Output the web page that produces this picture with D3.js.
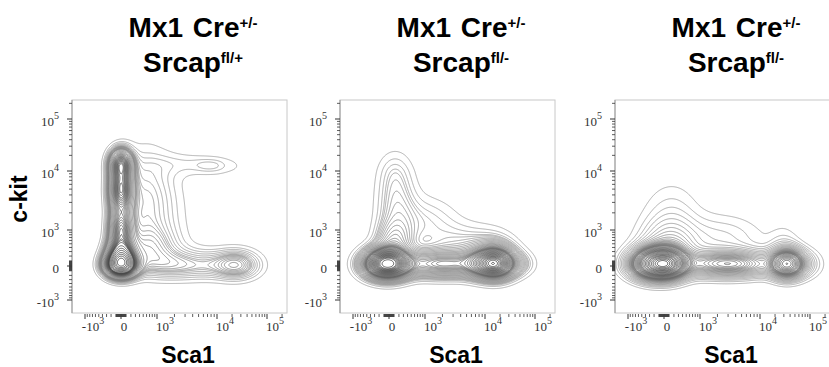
<!DOCTYPE html>
<html>
<head>
<meta charset="utf-8">
<script src="https://cdn.jsdelivr.net/npm/d3@7"></script>
<style>
body { margin: 0; background: #fff; }
text { font-family: "Liberation Sans", Arial, sans-serif; }
.tick-label { font-family: "Liberation Serif", "Times New Roman", serif; font-size: 13px; fill: #333; }
</style>
</head>
<body>
<svg id="chart" width="829" height="367"></svg>
<script>
// panel titles
var creGenotype = ["+/-", "+/-", "+/-"];
var srcapGenotype = ["fl/+", "fl/-", "fl/-"];

// axis ticks (same on Sca1 and c-kit)
var majorTicks = [-1000, 0, 1000, 10000, 100000];
var majorLabels = [["-10", "3"], ["0", ""], ["10", "3"], ["10", "4"], ["10", "5"]];

// cell populations: [Sca1, c-kit, spread Sca1, spread c-kit, weight]
// spreads are in arcsinh display units
var wtPops = [
    [0, 20, 0.4, 0.32, 1.0],
    [0, 250, 0.35, 0.4, 0.6],
    [0, 1000, 0.3, 0.5, 0.45],
    [0, 4800, 0.3, 0.6, 0.55],
    [0, 14000, 0.3, 0.4, 0.45],
    [600, 4000, 0.75, 1.2, 0.08],
    [700, 400, 0.75, 0.6, 0.1],
    [900, 1500, 0.8, 0.8, 0.02],
    [4000, 13500, 1.1, 0.32, 0.03],
    [7700, 12500, 0.4, 0.2, 0.025],
    [20000, 12000, 0.6, 0.3, 0.01],
    [24000, 20, 0.7, 0.4, 0.14],
    [2500, 20, 1.2, 0.42, 0.1]
];
var ko1Pops = [
    [-40, 40, 0.6, 0.4, 1.0],
    [15000, 40, 0.6, 0.4, 0.8],
    [2000, 40, 1.0, 0.38, 0.35],
    [50000, 40, 0.5, 0.35, 0.06],
    [100, 600, 0.5, 0.5, 0.14],
    [150, 2500, 0.55, 1.1, 0.1],
    [100, 10000, 0.45, 0.6, 0.03],
    [1000, 1500, 0.8, 0.6, 0.06],
    [3500, 600, 0.9, 0.5, 0.06],
    [15000, 300, 0.7, 0.55, 0.1]
];
var ko2Pops = [
    [-140, 40, 0.65, 0.4, 1.0],
    [100, 40, 0.45, 0.35, 0.4],
    [35000, 40, 0.5, 0.38, 0.6],
    [3000, 40, 1.1, 0.36, 0.35],
    [100, 400, 0.8, 0.7, 0.15],
    [150, 1800, 0.8, 0.9, 0.04],
    [2500, 700, 1.0, 0.6, 0.05],
    [30000, 400, 0.5, 0.6, 0.04],
    [90000, 40, 0.5, 0.4, 0.05]
];
var panelPops = [wtPops, ko1Pops, ko2Pops];

var svg = d3.select("#chart");
var panelLeft = [72, 340, 615];
var plotTop = 100, W = 215, H = 213;

// biexponential-like display transform
function T(v) { return Math.asinh(v / 470); }
var xT = d3.scaleLinear().domain(majorTicks.map(T)).range([13, 49, 85, 145, 195]);
var yT = d3.scaleLinear().domain(majorTicks.map(T)).range([200, 166, 130, 71, 19]);
function x(v) { return xT(T(v)); }
function y(v) { return yT(T(v)); }

var minorTicks = [];
[-1, 1].forEach(function (s) {
    for (var k = 1; k <= 5; k++) {
        for (var m = 1; m <= 9; m++) {
            var v = s * m * Math.pow(10, k);
            if (majorTicks.indexOf(v) < 0) minorTicks.push(v);
        }
    }
});

var step = 0.025;

panelPops.forEach(function (pops, p) {
    var g = svg.append("g").attr("transform", "translate(" + panelLeft[p] + "," + plotTop + ")");

    // density grid in display space
    var values = new Float64Array(W * H);
    var cols = d3.range(W).map(function (i) { return xT.invert(i + 0.5); });
    var rows = d3.range(H).map(function (j) { return yT.invert(j + 0.5); });
    var centers = pops.map(function (d) { return [T(d[0]), T(d[1]), d[2], d[3], d[4]]; });
    for (var j = 0; j < H; j++) {
        for (var i = 0; i < W; i++) {
            var s = 0;
            centers.forEach(function (c) {
                var dx = (cols[i] - c[0]) / c[2], dy = (rows[j] - c[1]) / c[3];
                s += c[4] * Math.exp(-0.5 * (dx * dx + dy * dy));
            });
            values[j * W + i] = s;
        }
    }

    // equal probability levels
    var sorted = Array.from(values).sort(function (a, b) { return b - a; });
    var total = d3.sum(sorted);
    var thresholds = [];
    var cum = 0, level = 1;
    for (var n = 0; n < sorted.length && level * step < 0.985; n++) {
        cum += sorted[n];
        if (cum >= level * step * total) {
            thresholds.push(sorted[n]);
            level++;
        }
    }
    thresholds.reverse();

    var contours = d3.contours().size([W, H]).thresholds(thresholds)(values);
    var shade = d3.scaleLinear().domain([0, contours.length - 1]).range(["#9a9a9a", "#2e2e2e"]);

    g.append("clipPath").attr("id", "clip" + p)
        .append("rect").attr("width", W).attr("height", H);

    g.append("rect")
        .attr("width", W).attr("height", H)
        .attr("fill", "#fff")
        .attr("stroke", "#c8c8c8")
        .attr("stroke-width", 1);

    g.append("g")
        .attr("clip-path", "url(#clip" + p + ")")
        .selectAll("path")
        .data(contours)
        .enter().append("path")
        .attr("d", d3.geoPath())
        .attr("fill", "none")
        .attr("stroke", function (d, i) { return shade(i); })
        .attr("stroke-width", 0.85)
        .attr("stroke-opacity", 0.9);

    // c-kit axis
    g.append("line").attr("x1", 0).attr("x2", 0).attr("y1", 0).attr("y2", H)
        .attr("stroke", "#999").attr("stroke-width", 1);
    g.selectAll(".yminor").data(minorTicks.filter(function (v) { return y(v) > 0 && y(v) < H; }))
        .enter().append("line")
        .attr("x1", -3).attr("x2", 0)
        .attr("y1", function (d) { return y(d); }).attr("y2", function (d) { return y(d); })
        .attr("stroke", "#333").attr("stroke-width", 0.8);
    g.selectAll(".ymajor").data(majorTicks)
        .enter().append("line")
        .attr("x1", -5).attr("x2", 0)
        .attr("y1", function (d) { return y(d); }).attr("y2", function (d) { return y(d); })
        .attr("stroke", "#333").attr("stroke-width", 1);
    var yl = g.selectAll(".ylabel").data(majorTicks)
        .enter().append("text")
        .attr("class", "tick-label")
        .attr("text-anchor", "end")
        .attr("x", -13)
        .attr("y", function (d) { return y(d) + 7; });
    yl.append("tspan").text(function (d, i) { return majorLabels[i][0]; });
    yl.append("tspan").attr("dy", -7).attr("font-size", 10)
        .text(function (d, i) { return majorLabels[i][1]; });

    // Sca1 axis
    g.selectAll(".xminor").data(minorTicks.filter(function (v) { return x(v) > 0 && x(v) < W; }))
        .enter().append("line")
        .attr("x1", function (d) { return x(d); }).attr("x2", function (d) { return x(d); })
        .attr("y1", H + 1).attr("y2", H + 4)
        .attr("stroke", "#333").attr("stroke-width", 0.8);
    g.selectAll(".xmajor").data(majorTicks)
        .enter().append("line")
        .attr("x1", function (d) { return x(d); }).attr("x2", function (d) { return x(d); })
        .attr("y1", H + 1).attr("y2", H + 6)
        .attr("stroke", "#333").attr("stroke-width", 1);
    var xl = g.selectAll(".xlabel").data(majorTicks)
        .enter().append("text")
        .attr("class", "tick-label")
        .attr("text-anchor", "middle")
        .attr("x", function (d) { return x(d) + (d === 0 ? 3 : 8); })
        .attr("y", H + 18);
    xl.append("tspan").text(function (d, i) { return majorLabels[i][0]; });
    xl.append("tspan").attr("dy", -7).attr("font-size", 10)
        .text(function (d, i) { return majorLabels[i][1]; });

    g.append("text")
        .attr("x", 116).attr("y", H + 50)
        .attr("text-anchor", "middle")
        .attr("font-weight", "bold").attr("font-size", 23)
        .text("Sca1");

    // title
    var t1 = svg.append("text")
        .attr("x", panelLeft[p] + 121).attr("y", 37)
        .attr("text-anchor", "middle")
        .attr("font-weight", "bold").attr("font-size", 28)
        .attr("word-spacing", 2);
    t1.append("tspan").text("Mx1 Cre");
    t1.append("tspan").attr("dy", -9).attr("font-size", 15).text(creGenotype[p]);
    var t2 = svg.append("text")
        .attr("x", panelLeft[p] + 121).attr("y", 72)
        .attr("text-anchor", "middle")
        .attr("font-weight", "bold").attr("font-size", 28);
    t2.append("tspan").text("Srcap");
    t2.append("tspan").attr("dy", -9).attr("font-size", 15).text(srcapGenotype[p]);
});

svg.append("text")
    .attr("transform", "translate(27,199) rotate(-90)")
    .attr("text-anchor", "middle")
    .attr("font-weight", "bold").attr("font-size", 23)
    .text("c-kit");
</script>
</body>
</html>
